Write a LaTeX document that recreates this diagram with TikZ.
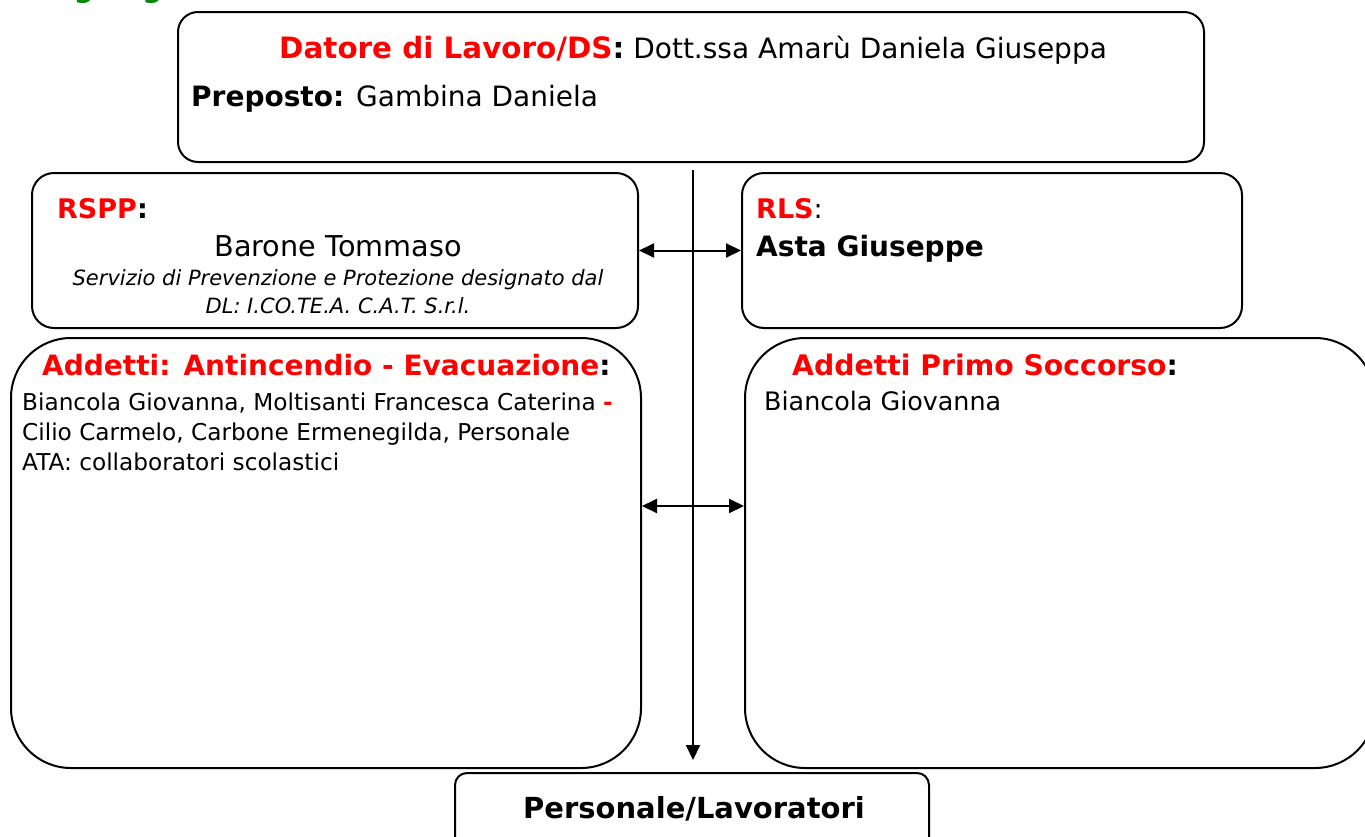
\documentclass[tikz,border=0pt]{standalone}
\usepackage{fontspec}
\setmainfont{DejaVu Sans}
\usetikzlibrary{arrows.meta}
\definecolor{hred}{RGB}{255,0,0}
\definecolor{hgreen}{RGB}{0,140,0}
\newcommand\fsz[1]{\fontsize{#1}{#1}\selectfont}
\begin{document}
\begin{tikzpicture}[x=1pt,y=-1pt,
  box/.style={draw=black,line width=2pt,rounded corners=#1,inner sep=0pt},
  box/.default=20pt,
  txt/.style={anchor=base west,inner sep=0pt},
  ctxt/.style={anchor=base,inner sep=0pt},
  arr/.style={line width=2pt,-{Triangle[length=15pt,width=14pt]}},
  darr/.style={line width=2pt,{Triangle[length=15pt,width=14pt]}-{Triangle[length=15pt,width=14pt]}}]
\useasboundingbox (0,0) rectangle (1365,836);
% cut-off title
\node[txt,text=hgreen] (title) at (36,-3) {\fsz{28}\bfseries Organigramma};
% boxes
\node[box=20pt,minimum width=1026pt,minimum height=150pt] (top) at (691,87) {};
\node[box=22pt,minimum width=606pt,minimum height=155pt] (rspp) at (335,250.5) {};
\node[box=22pt,minimum width=500pt,minimum height=155pt] (rls) at (992,250.5) {};
\node[box=60pt,minimum width=630pt,minimum height=430pt] (fire) at (326,553) {};
\node[box=60pt,minimum width=630pt,minimum height=430pt] (first) at (1060,553) {};
\node[box=12pt,minimum width=474pt,minimum height=80pt] (pers) at (692,813) {};
% texts
\node[txt] (t1) at (279,58) {\fsz{28}\textbf{\fsz{29.4}\textcolor{hred}{Datore di Lavoro/DS}:} Dott.ssa Amarù Daniela Giuseppa};
\node[txt] (t2) at (191,106) {\fsz{28}\textbf{Preposto:} Gambina Daniela};
\node[txt] (t3) at (57,218) {\fsz{27}\textbf{\textcolor{hred}{RSPP}:}};
\node[ctxt] (t4) at (338,256) {\fsz{28.7}Barone Tommaso};
\node[ctxt] (t5) at (338,285) {\fsz{21}\itshape Servizio di Prevenzione e Protezione designato dal};
\node[ctxt] (t6) at (338,313) {\fsz{21}\itshape DL: I.CO.TE.A. C.A.T. S.r.l.};
\node[txt] (t7) at (756,218) {\fsz{27}\textbf{\textcolor{hred}{RLS}}:};
\node[txt] (t8) at (756,256) {\fsz{28}\bfseries Asta Giuseppe};
\node[txt] (t9) at (42,375) {\fsz{28}\bfseries\textcolor{hred}{Addetti: Antincendio - Evacuazione}:};
\node[txt] (t10) at (22,410) {\fsz{23.2}Biancola Giovanna, Moltisanti Francesca Caterina \textcolor{hred}{\bfseries -}};
\node[txt] (t11) at (22,440) {\fsz{23.2}Cilio Carmelo, Carbone Ermenegilda, Personale};
\node[txt] (t12) at (22,470) {\fsz{23.2}ATA: collaboratori scolastici};
\node[txt] (t13) at (792,375) {\fsz{28.3}\bfseries\textcolor{hred}{Addetti Primo Soccorso}:};
\node[txt] (t14) at (764,410) {\fsz{25.4}Biancola Giovanna};
\node[ctxt] (t15) at (694,818) {\fsz{29}\bfseries Personale/Lavoratori};
% connectors
\coordinate (vs) at (693,170);
\coordinate (ve) at (693,760);
\draw[arr] (vs) -- (ve);
\draw[darr] (rspp.east) -- (rls.west);
\coordinate (h2) at (693,506);
\draw[darr] (fire.east |- h2) -- (first.west |- h2);
\end{tikzpicture}
\end{document}
